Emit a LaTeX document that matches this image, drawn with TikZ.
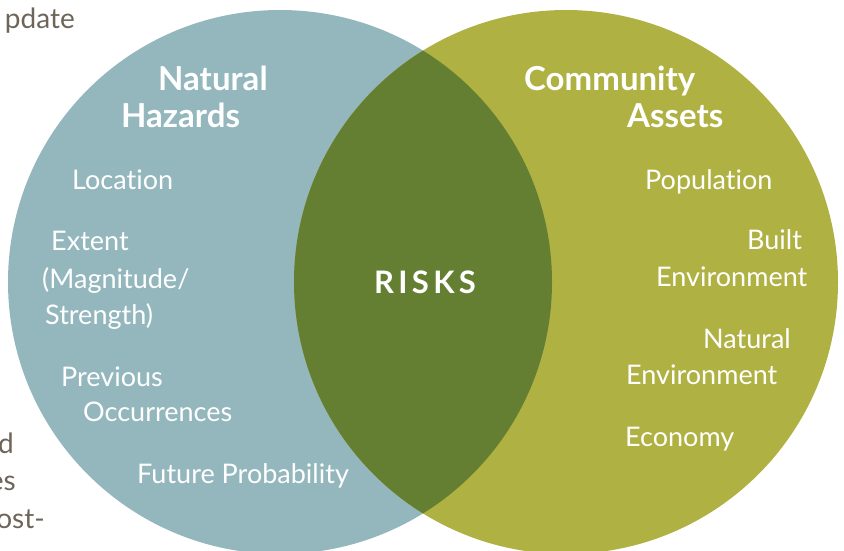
\documentclass[tikz,border=0pt]{standalone}
\usepackage{fontspec}
\setmainfont{Lato}[Ligatures={NoCommon}]
\newfontfamily\riskfont[LetterSpace=14,Ligatures={NoCommon}]{Lato}
\definecolor{hazblue}{HTML}{93B7BD}
\definecolor{assetolive}{HTML}{B0B143}
\definecolor{riskgreen}{HTML}{647F32}
\definecolor{pagegrey}{HTML}{6D6559}
\begin{document}
\begin{tikzpicture}[x=1pt,y=-1pt,
  circ/.style={circle, minimum size=544pt, inner sep=0pt, draw=none},
  item/.style={anchor=base west, inner sep=0pt, text=white, font=\fontsize{27}{32}\selectfont},
  title/.style={anchor=base west, inner sep=0pt, text=white, font=\fontsize{33}{38}\selectfont\bfseries},
  edge/.style={anchor=base east, inner sep=0pt, text=pagegrey, font=\fontsize{28}{32}\selectfont}]
\useasboundingbox (0,0) rectangle (844,550);
\node[circ, fill=hazblue] (hz) at (280,282) {};
\node[circ, fill=assetolive] (ca) at (566,282) {};
\begin{scope}
  \clip (280,282) circle (272);
  \fill[riskgreen] (566,282) circle (272);
\end{scope}
% page text fragments
\node[edge] (t1) at (75,28) {pdate};
\node[edge] (t2) at (14,453) {d};
\node[edge] (t3) at (16,490) {es};
\node[edge] (t4) at (45,528) {ost-};
% titles
\node[title] (nh1) at (158,90) {Natural};
\node[title] (nh2) at (121,127) {Hazards};
\node[title] (ca1) at (524,90) {Community};
\node[title] (ca2) at (627,127) {Assets};
% risks
\node[anchor=base, inner sep=0pt, text=white, font=\fontsize{31}{35}\selectfont\riskfont\bfseries] (rk) at (425,293) {RISKS};
% hazard items
\node[item] (h1) at (72,189) {Location};
\node[item] (h2) at (51,250) {Extent};
\node[item] (h3) at (42,288) {(Magnitude/};
\node[item] (h4) at (45,324) {Strength)};
\node[item] (h5) at (61,386) {Previous};
\node[item] (h6) at (83,421) {Occurrences};
\node[item] (h7) at (137,483) {Future Probability};
% asset items
\node[item] (a1) at (645,189) {Population};
\node[item] (a2) at (747,249) {Built};
\node[item] (a3) at (656,286) {Environment};
\node[item] (a4) at (703,348) {Natural};
\node[item] (a5) at (626,384) {Environment};
\node[item] (a6) at (625,446) {Economy};
\end{tikzpicture}
\end{document}
